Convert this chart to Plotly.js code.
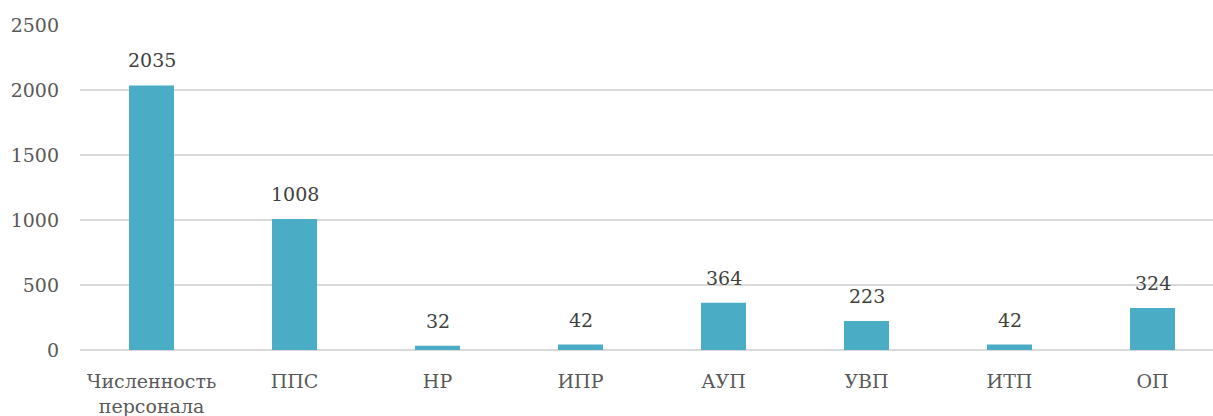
<!DOCTYPE html>
<html><head><meta charset="utf-8">
<script src="https://cdn.plot.ly/plotly-3.0.1.min.js"></script>
<style>html,body{margin:0;padding:0;background:#fff;}#chart{width:1213px;height:416px;}</style>
</head><body><div id="chart"></div>
<script>
const categories = ["Численность<br>персонала", "ППС", "НР", "ИПР", "АУП", "УВП", "ИТП", "ОП"];
const values = [2035, 1008, 32, 42, 364, 223, 42, 324];
const yTicks = [0, 500, 1000, 1500, 2000, 2500];

const font = "DejaVu Serif";
const fsize = 19;
const annotations = categories.map((c, i) => ({
  x: c, y: values[i], text: String(values[i]), showarrow: false,
  yanchor: 'bottom', yshift: 12,
  font: {family: font, size: fsize, color: '#404040'}
}));

Plotly.newPlot('chart', [{
  type: 'bar', x: categories, y: values,
  marker: {color: '#4BACC6'}, hoverinfo: 'none'
}], {
  width: 1213, height: 416,
  margin: {l: 80, r: 0, t: 25, b: 66},
  paper_bgcolor: '#fff', plot_bgcolor: '#fff',
  bargap: 0.685,
  showlegend: false,
  font: {family: font, size: fsize, color: '#595959'},
  xaxis: {
    type: 'category', range: [-0.5, 7.423], fixedrange: true,
    showgrid: false, showline: false, zeroline: false, ticks: '',
    ticklabelstandoff: 18,
    tickfont: {family: font, size: fsize, color: '#595959'}
  },
  yaxis: {
    range: [0, 2500], tickvals: yTicks, ticktext: yTicks.map(String),
    showgrid: true, gridcolor: '#d9d9d9', gridwidth: 1.5,
    zeroline: true, zerolinecolor: '#d9d9d9', zerolinewidth: 1.5,
    showline: false, ticks: '', ticklabelstandoff: 20,
    tickfont: {family: font, size: fsize, color: '#595959'}
  },
  annotations: annotations
}, {staticPlot: true});
</script></body></html>
